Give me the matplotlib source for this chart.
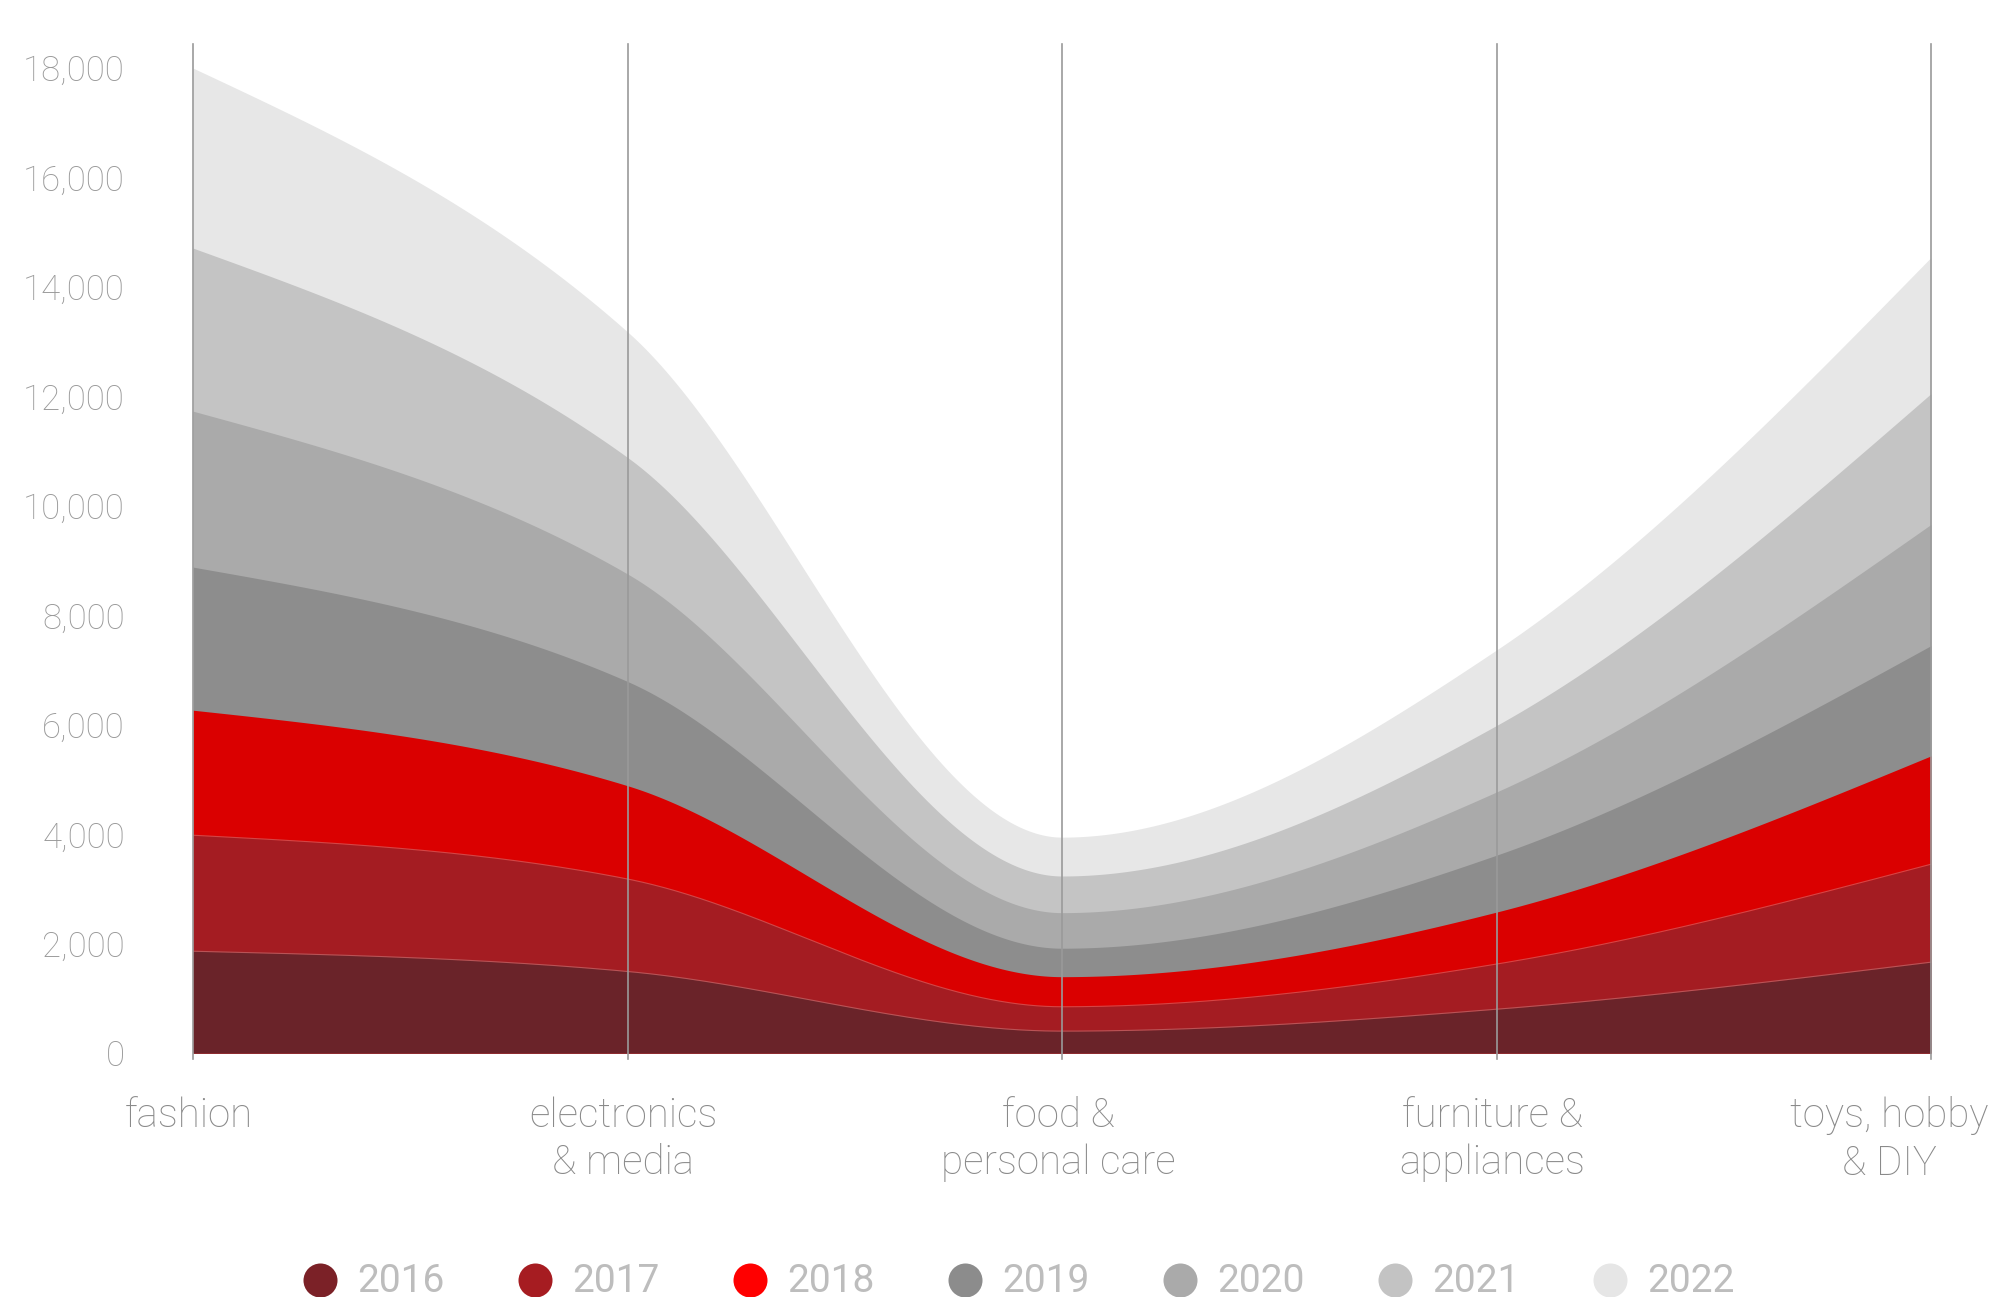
import numpy as np
import matplotlib.pyplot as plt
from matplotlib.ticker import FuncFormatter
from matplotlib.transforms import ScaledTranslation

plt.rcParams['font.family'] = ['Roboto', 'DejaVu Sans']

categories = ['fashion', 'electronics\n& media', 'food &\npersonal care',
              'furniture &\nappliances', 'toys, hobby\n& DIY']
years = ['2016', '2017', '2018', '2019', '2020', '2021', '2022']

# yearly values per category (stacked)
v2016 = [1860, 1490, 400, 800, 1660]
v2017 = [2120, 1690, 445, 825, 1790]
v2018 = [2285, 1705, 550, 950, 1980]
v2019 = [2615, 1905, 520, 1040, 2015]
v2020 = [2850, 1965, 650, 1155, 2215]
v2021 = [2980, 2130, 670, 1215, 2390]
v2022 = [3290, 2295, 710, 1380, 2490]

fill_colors = ['#6a2329', '#a41c22', '#da0000', '#8d8d8d', '#aaaaaa', '#c4c4c4', '#e7e7e7']
legend_colors = ['#7b2127', '#a61c21', '#ff0000', '#8c8c8c', '#aaaaaa', '#c3c3c3', '#e6e6e6']


def monotone(x, y, xs):
    # monotone cubic (same rule as d3.curveMonotoneX)
    x = np.asarray(x, float)
    y = np.asarray(y, float)
    h = np.diff(x)
    s = np.diff(y) / h
    m = np.zeros(len(x))
    for i in range(1, len(x) - 1):
        p = (s[i - 1] * h[i] + s[i] * h[i - 1]) / (h[i - 1] + h[i])
        sg = (1 if s[i - 1] >= 0 else -1) + (1 if s[i] >= 0 else -1)
        m[i] = sg * min(abs(s[i - 1]), abs(s[i]), 0.5 * abs(p))
    m[0] = (3 * s[0] - m[1]) / 2
    m[-1] = (3 * s[-1] - m[-2]) / 2
    idx = np.clip(np.searchsorted(x, xs) - 1, 0, len(x) - 2)
    t = (xs - x[idx]) / h[idx]
    h00 = 2 * t**3 - 3 * t**2 + 1
    h10 = t**3 - 2 * t**2 + t
    h01 = -2 * t**3 + 3 * t**2
    h11 = t**3 - t**2
    return h00 * y[idx] + h10 * h[idx] * m[idx] + h01 * y[idx + 1] + h11 * h[idx] * m[idx + 1]


W, H = 1991, 1297
fig = plt.figure(figsize=(W / 100, H / 100), dpi=100)
ax = fig.add_axes([193 / W, (H - 1053) / H, (1931 - 193) / W, (1053 - 44) / H])

series = np.array([v2016, v2017, v2018, v2019, v2020, v2021, v2022])
tops = np.cumsum(series, axis=0)
x = np.arange(len(categories))
xs = np.linspace(0, len(categories) - 1, 1200)
curves = [monotone(x, t, xs) for t in tops]

# paint from the top layer down so neighbouring bands leave no seams
for i in reversed(range(len(years))):
    ax.fill_between(xs, 0, curves[i], color=fill_colors[i], lw=0, zorder=1)
for i in (0, 1):
    ax.plot(xs, curves[i], color='#d08a8a', lw=0.8, alpha=0.5, zorder=2)

for xi in x:
    ax.axvline(xi, ymin=-0.006, ymax=1, color='#9a9a9a', lw=1.2, zorder=3, clip_on=False)

ax.set_xlim(0, len(categories) - 1)
ax.set_ylim(0, 18440)
ax.set_yticks(range(0, 18001, 2000))
ax.yaxis.set_major_formatter(FuncFormatter(lambda v, p: f'{v:,.0f}'))
ax.tick_params(axis='y', length=0, pad=49, labelsize=25, labelcolor='#999999')
for lbl in ax.get_yticklabels():
    lbl.set_fontweight('light')

ax.set_xticks(x)
ax.set_xticklabels(categories, fontsize=29, color='#8a8a8a', fontweight='light',
                   linespacing=1.3)
ax.tick_params(axis='x', length=0, pad=31)
for k, lbl in enumerate(ax.get_xticklabels()):
    dx = -0.42 if k == len(categories) - 1 else -0.04
    lbl.set_transform(lbl.get_transform() + ScaledTranslation(dx, 0, fig.dpi_scale_trans))

for sp in ax.spines.values():
    sp.set_visible(False)

# legend row along the bottom edge
lax = fig.add_axes([0, 0, 1, 1])
lax.set_xlim(0, W)
lax.set_ylim(H, 0)
lax.axis('off')
for i, yr in enumerate(years):
    cx = 320 + i * 215
    lax.scatter([cx], [1280], s=600, color=legend_colors[i], lw=0)
    lax.text(cx + 37, 1281, yr, fontsize=28, color='#bdbdbd', va='center', ha='left')

fig.savefig('out.png', dpi=100)
